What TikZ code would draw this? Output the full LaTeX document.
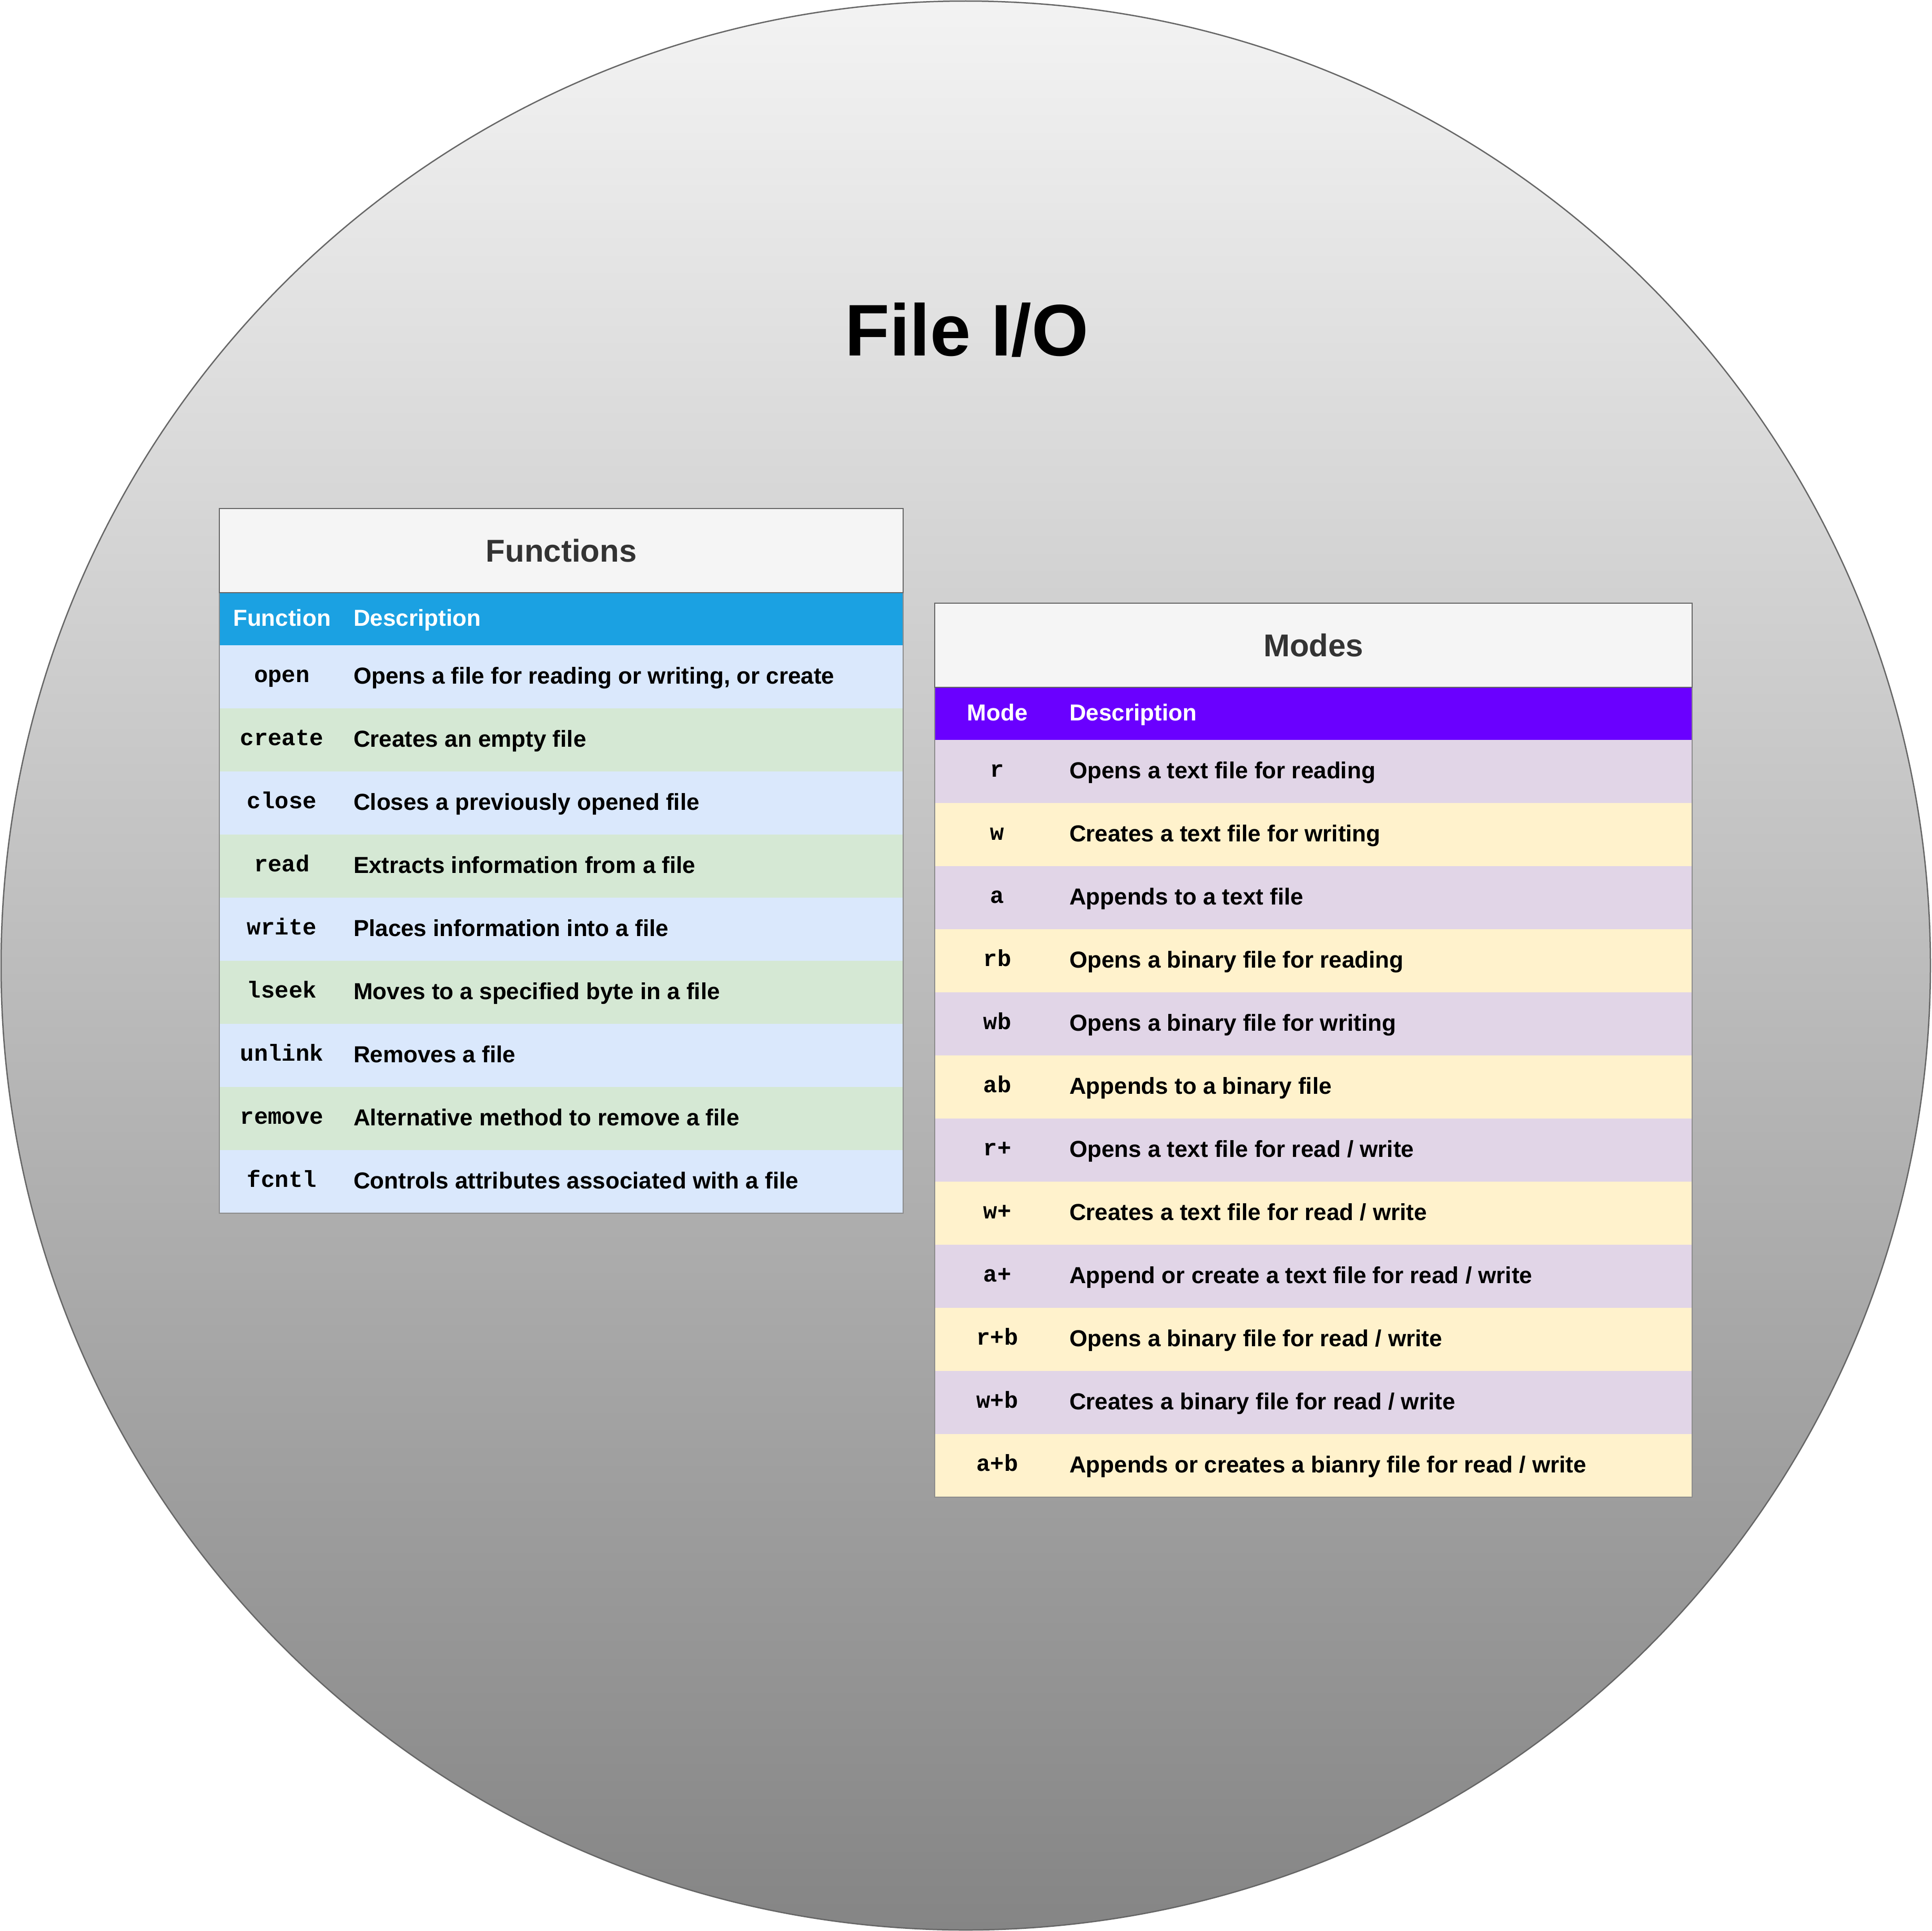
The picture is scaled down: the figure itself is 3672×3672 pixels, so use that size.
\documentclass[tikz,border=0pt]{standalone}
\usepackage{fontspec}
\setmainfont{Liberation Sans}
\newfontfamily\codefont{Liberation Mono}
\definecolor{bgtop}{HTML}{F3F3F3}
\definecolor{bgbot}{HTML}{858585}
\definecolor{circ}{HTML}{666666}
\definecolor{titlebg}{HTML}{F5F5F5}
\definecolor{titletxt}{HTML}{333333}
\definecolor{bandline}{HTML}{666666}
\definecolor{outline}{HTML}{8C8C8C}
\definecolor{fhead}{HTML}{1BA1E2}
\definecolor{fblue}{HTML}{DAE8FC}
\definecolor{fgreen}{HTML}{D5E8D4}
\definecolor{mhead}{HTML}{6A00FF}
\definecolor{mpurple}{HTML}{E1D5E7}
\definecolor{myellow}{HTML}{FFF2CC}
\begin{document}
\begin{tikzpicture}[x=1pt,y=-1pt,
  every node/.style={inner sep=0pt, outer sep=0pt},
  band/.style={draw=none, anchor=north west},
  bigtitle/.style={font=\fontsize{139}{160}\selectfont\bfseries, text=black},
  tabtitle/.style={font=\fontsize{60}{70}\selectfont\bfseries, text=titletxt},
  hdr/.style={font=\fontsize{44}{52}\selectfont\bfseries, text=white},
  desc/.style={font=\fontsize{44}{52}\selectfont\bfseries, text=black},
  code/.style={font=\fontsize{44}{52}\selectfont\codefont\bfseries, text=black},
  tborder/.style={draw=bandline, line width=2.5pt},
  outl/.style={draw=outline, line width=2pt}]
\path[use as bounding box, fill=white] (0,0) rectangle (3672,3672);
\shade[top color=bgtop, bottom color=bgbot, draw=circ, line width=2.5pt] (1836,1836) circle[radius=1834];

\node[bigtitle, anchor=base] (title) at (1838,676) {File I/O};

% ---------- Functions table ----------
\node[band, fill=titlebg, minimum width=1300pt, minimum height=160pt] (fT) at (417,967) {};
\node[tabtitle, anchor=base] (fTt) at ([yshift=-21pt]fT.center) {Functions};
\node[band, fill=fhead, minimum width=1300pt, minimum height=100pt] (fH) at (417,1127) {};
\node[hdr, anchor=base] (fH1) at ([xshift=119pt,yshift=-13pt]fH.west) {Function};
\node[hdr, anchor=base west] (fH2) at ([xshift=255pt,yshift=-13pt]fH.west) {Description};
\foreach \c/\d/\col [count=\i from 0] in {
  open/{Opens a file for reading or writing, or create}/fblue,
  create/{Creates an empty file}/fgreen,
  close/{Closes a previously opened file}/fblue,
  read/{Extracts information from a file}/fgreen,
  write/{Places information into a file}/fblue,
  lseek/{Moves to a specified byte in a file}/fgreen,
  unlink/{Removes a file}/fblue,
  remove/{Alternative method to remove a file}/fgreen,
  fcntl/{Controls attributes associated with a file}/fblue}{
  \node[band, fill=\col, minimum width=1300pt, minimum height=120pt] (f\i) at (417,{1227+120*\i}) {};
  \node[code, anchor=base] (fc\i) at ([xshift=119pt,yshift=-10pt]f\i.west) {\c};
  \node[desc, anchor=base west] (fd\i) at ([xshift=255pt,yshift=-13pt]f\i.west) {\d};
}
\draw[outl] (fT.north west) rectangle (f8.south east);
\draw[tborder] (fT.north west) rectangle (fT.south east);

% ---------- Modes table ----------
\node[band, fill=titlebg, minimum width=1440pt, minimum height=160pt] (mT) at (1777,1147) {};
\node[tabtitle, anchor=base] (mTt) at ([yshift=-21pt]mT.center) {Modes};
\node[band, fill=mhead, minimum width=1440pt, minimum height=100pt] (mH) at (1777,1307) {};
\node[hdr, anchor=base] (mH1) at ([xshift=119pt,yshift=-13pt]mH.west) {Mode};
\node[hdr, anchor=base west] (mH2) at ([xshift=256pt,yshift=-13pt]mH.west) {Description};
\foreach \c/\d/\col [count=\i from 0] in {
  r/{Opens a text file for reading}/mpurple,
  w/{Creates a text file for writing}/myellow,
  a/{Appends to a text file}/mpurple,
  rb/{Opens a binary file for reading}/myellow,
  wb/{Opens a binary file for writing}/mpurple,
  ab/{Appends to a binary file}/myellow,
  r+/{Opens a text file for read / write}/mpurple,
  w+/{Creates a text file for read / write}/myellow,
  a+/{Append or create a text file for read / write}/mpurple,
  r+b/{Opens a binary file for read / write}/myellow,
  w+b/{Creates a binary file for read / write}/mpurple,
  a+b/{Appends or creates a bianry file for read / write}/myellow}{
  \node[band, fill=\col, minimum width=1440pt, minimum height=120pt] (m\i) at (1777,{1407+120*\i}) {};
  \node[code, anchor=base] (mc\i) at ([xshift=119pt,yshift=-10pt]m\i.west) {\c};
  \node[desc, anchor=base west] (md\i) at ([xshift=256pt,yshift=-13pt]m\i.west) {\d};
}
\draw[outl] (mT.north west) rectangle (m11.south east);
\draw[tborder] (mT.north west) rectangle (mT.south east);
\end{tikzpicture}
\end{document}
